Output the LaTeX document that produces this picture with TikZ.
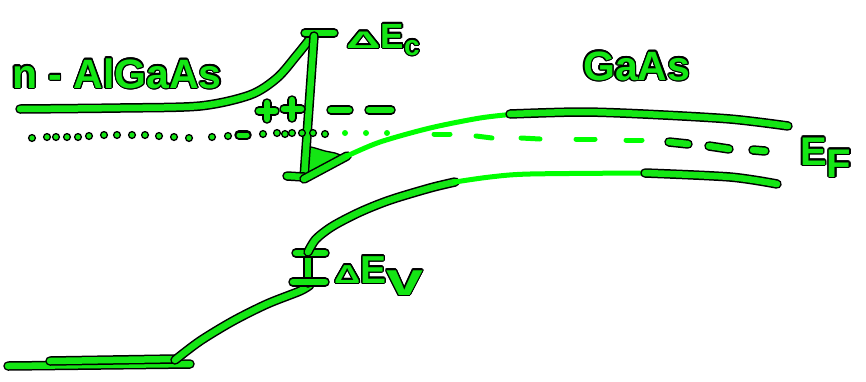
\documentclass[tikz,border=0pt]{standalone}
\usepackage{fontspec}
\setmainfont{Liberation Sans}
\usepackage{contour}
\contourlength{1.3pt}
\contournumber{16}
\definecolor{gr}{RGB}{20,230,20}
\definecolor{lg}{RGB}{0,255,0}
\begin{document}
\begin{tikzpicture}[x=1pt,y=-1pt,
 pen/.style={draw=gr,line width=6.5pt,line cap=round,line join=round,
   preaction={draw=black,line width=9.5pt,line cap=round,line join=round}},
 lite/.style={draw=lg,line width=5pt,line cap=round,line join=round},
 odot/.style={fill=gr,draw=black,line width=1.3pt},
 ldot/.style={fill=lg},
 lbl/.style={text=gr,inner sep=0pt,font=\bfseries}]
\useasboundingbox[fill=white] (0,0) rectangle (866,381);

% AlGaAs conduction band
\draw[pen] plot[smooth] coordinates {(20,109) (120,108) (200,106) (250,95) (277,78) (297,55) (313,35)};
% Delta Ec bar
\draw[pen] (305,33) -- (334,33);
\filldraw[fill=gr,draw=black,line width=1.3pt] (307,146) -- (304,177) -- (346,157) -- (335,153) -- (325,151) -- (315,148) -- cycle;
\draw[pen] (314,36) -- (304,178);
\draw[pen] (287,176) -- (304,177);
% GaAs conduction band
\draw[pen] (304,179) -- (347,156);
\draw[lite] plot[smooth] coordinates {(347,156) (380,142) (430,128) (480,118) (515,114)};
\draw[pen] plot[smooth] coordinates {(510,114) (580,112) (643,114) (730,119) (788,126)};

% charges
\draw[pen] (259,111) -- (275,111) (267,103) -- (267,119);
\draw[pen] (284,109) -- (301,109) (292,100) -- (292,118);
\draw[pen] (331,110) -- (349,110);
\draw[pen] (369,110) -- (391,110);

% Fermi level, AlGaAs side
\foreach \x/\y in {32/138,47/137,56/137,67/137,78/137,89/136,104/135,117/135,132/135,145/135,159/136,174/137,189/138,212/137,228/136,263/134,277/133,285/134,292/133,302/133,313/133,325/134}
  \filldraw[odot] (\x,\y) circle (3.4pt);
\draw[pen,line width=5pt,preaction={draw=black,line width=7.5pt,line cap=round}] (239,135) -- (247,135);
% Fermi level, GaAs side
\foreach \x in {345,366,387}
  \fill[ldot] (\x,133) circle (3pt);
\draw[lite] (434,134) -- (450,134);
\draw[lite] (476,136) -- (492,138);
\draw[lite] (521,138) -- (540,139);
\draw[lite] (576,139) -- (595,139);
\draw[lite] (626,140) -- (642,140);
\draw[pen] (669,142) -- (688,144);
\draw[pen] (709,146) -- (729,149);
\draw[pen] (753,150) -- (765,151);

% AlGaAs valence band
\draw[pen] (8,366) -- (100,365) -- (190,364);
\draw[pen] (50,361) -- (175,359);
\draw[pen] plot[smooth] coordinates {(175,360) (200,341) (233,321) (267,304) (300,291) (310,285)};
% Delta Ev bar
\draw[pen] (308,253) -- (308,283);
\draw[pen] (296,253) -- (325,253);
\draw[pen] (293,282) -- (325,282);
% GaAs valence band
\draw[pen] plot[smooth] coordinates {(308,252) (316,239) (333,226) (360,212) (390,200) (430,188) (455,182)};
\draw[lite] plot[smooth] coordinates {(455,182) (490,177) (530,174) (645,173)};
\draw[pen] plot[smooth] coordinates {(645,173) (730,177) (777,184)};

% labels
\node[lbl,anchor=base west,font=\bfseries\fontsize{41}{41}\selectfont] (alg) at (12,88) {\contour{black}{n - AlGaAs}};
\node[lbl,anchor=base west,font=\bfseries\fontsize{41}{41}\selectfont] (gaas) at (583,80) {\contour{black}{GaAs}};
\node[lbl,anchor=base west,font=\bfseries\fontsize{40}{40}\selectfont] (ef) at (800,165) {\contour{black}{E\raisebox{-12pt}{F}}};
\node[lbl,anchor=base west] (dec) at (346,48) {\contour{black}{{\fontsize{24}{24}\selectfont\scalebox{2}[1]{Δ}}{\fontsize{35}{35}\selectfont E}\raisebox{-7pt}{\fontsize{28}{28}\selectfont c}}};
\node[lbl,anchor=base west] (dev) at (334,283) {\contour{black}{{\fontsize{26}{26}\selectfont\scalebox{1.4}[1]{Δ}}{\fontsize{39}{39}\selectfont E}\raisebox{-12pt}{\fontsize{39}{39}\selectfont\scalebox{1.7}[1.2]{v}}}};
\end{tikzpicture}
\end{document}
